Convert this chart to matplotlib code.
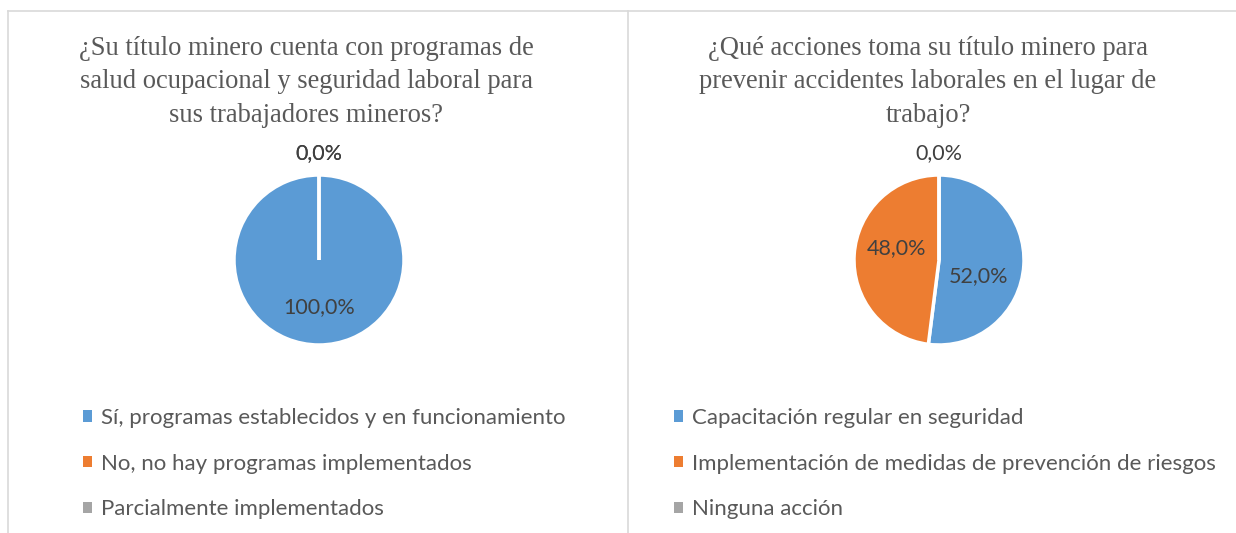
import numpy as np
import matplotlib
matplotlib.use("Agg")
import matplotlib.pyplot as plt
from matplotlib.patches import Patch
from matplotlib.lines import Line2D

# chart 1
title_1 = "¿Su título minero cuenta con programas de\nsalud ocupacional y seguridad laboral para\nsus trabajadores mineros?"
cats_1 = ["Sí, programas establecidos y en funcionamiento",
          "No, no hay programas implementados",
          "Parcialmente implementados"]
vals_1 = [100.0, 0.0, 0.0]

# chart 2
title_2 = "¿Qué acciones toma su título minero para\nprevenir accidentes laborales en el lugar de\ntrabajo?"
cats_2 = ["Capacitación regular en seguridad",
          "Implementación de medidas de prevención de riesgos",
          "Ninguna acción"]
vals_2 = [52.0, 48.0, 0.0]

colors = ["#5B9BD5", "#ED7D31", "#A5A5A5"]
W, H = 1236, 533
TITLE_FONT = "Liberation Serif"
LABEL_FONT = "Lato"
GRID = "#D9D9D9"


def fmt_pct(p):
    return f"{p:.1f}%".replace(".", ",")


def px_box(cx, cy, r):
    # pixel centre/radius (origin top-left) -> figure fraction rect
    return [(cx - r) / W, (H - cy - r) / H, 2 * r / W, 2 * r / H]


def draw_panel(fig, vals, cats, title, cx, cy, title_x, legend_x, label_pos):
    ax = fig.add_axes(px_box(cx, cy, 85))
    wedges, texts, autotexts = ax.pie(
        vals, colors=colors, startangle=90, counterclock=False,
        radius=1.0, autopct=fmt_pct, pctdistance=0.55,
        wedgeprops=dict(edgecolor="white", linewidth=2.5),
        textprops=dict(fontsize=15.5, family=LABEL_FONT, color="#404040"))
    ax.set_xlim(-1, 1)
    ax.set_ylim(-1, 1)
    for t, v, pos in zip(autotexts, vals, label_pos):
        if pos is not None:
            t.set_position(pos)
        if v == 0:
            t.set_position((0, 1.26))
    fig.text(title_x / W, 1 - 82 / H, title, ha="center", va="center",
             fontsize=19.1, family=TITLE_FONT, color="#595959",
             linespacing=1.43)
    handles = [Patch(facecolor=c, edgecolor="none") for c in colors]
    fig.legend(handles, cats, loc="upper left",
               bbox_to_anchor=(legend_x / W, 1 - 408 / H),
               frameon=False, prop=dict(family=LABEL_FONT, size=16),
               labelcolor="#595959", handlelength=0.4, handleheight=0.4,
               handletextpad=0.4, labelspacing=1.15, borderaxespad=0,
               borderpad=0)


fig = plt.figure(figsize=(W / 100, H / 100), dpi=100)

# panel borders
fig.add_artist(Line2D([8 / W, 8 / W], [0, 1 - 11 / H], color=GRID, lw=1.2))
fig.add_artist(Line2D([628 / W, 628 / W], [0, 1 - 11 / H], color=GRID, lw=1.2))
fig.add_artist(Line2D([8 / W, 1], [1 - 11 / H, 1 - 11 / H], color=GRID, lw=1.2))

draw_panel(fig, vals_1, cats_1, title_1, 319, 260, 306, 83,
           [None, None, None])
draw_panel(fig, vals_2, cats_2, title_2, 939, 260, 928, 674,
           [(0.46, -0.19), (-0.5, 0.14), None])

fig.savefig("out.png", dpi=100, facecolor="white")
